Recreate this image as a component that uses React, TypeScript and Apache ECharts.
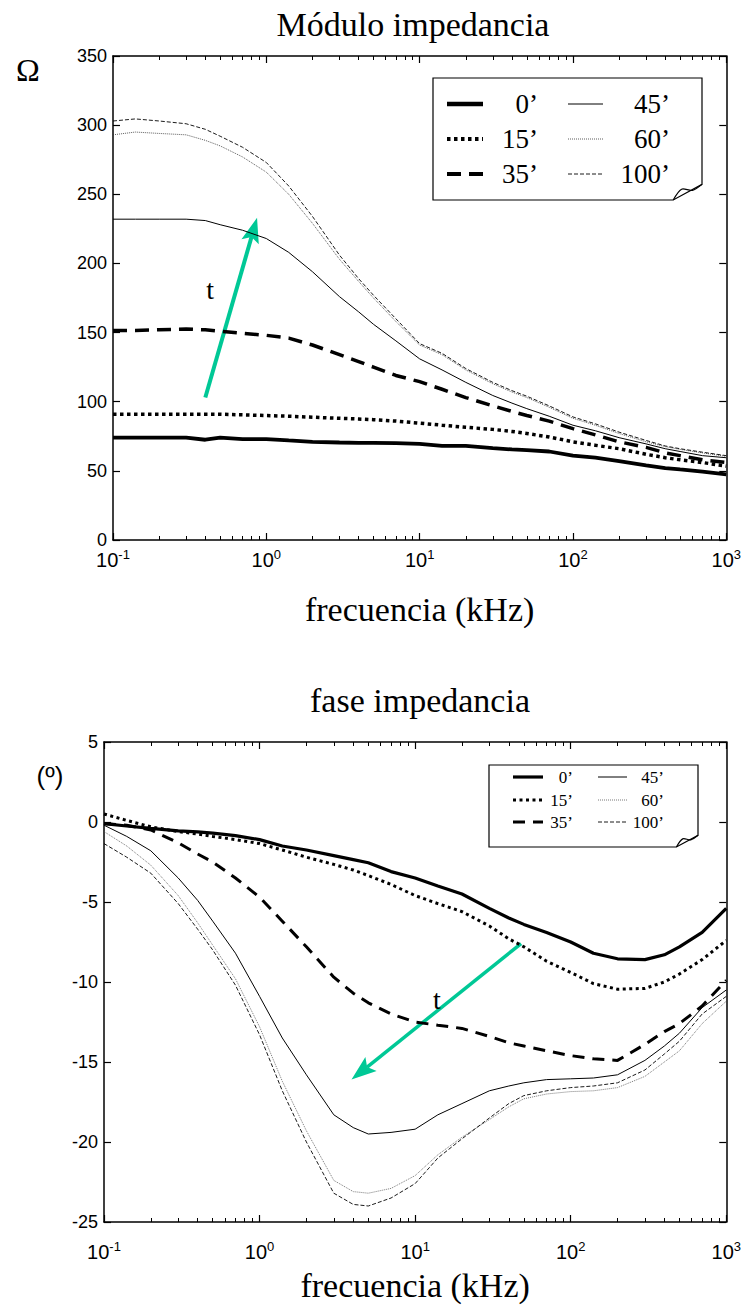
import React, { useEffect, useRef } from "react";
import * as echarts from "echarts";

// ---------- data ----------
const FREQ = [0.1, 0.14, 0.2, 0.3, 0.4, 0.5, 0.7, 1, 1.4, 2, 3, 4, 5, 7, 10, 14, 20, 30, 40, 50, 70, 100, 140, 200, 300, 400, 500, 700, 1000];
const SERIES_NAMES = ["0’", "15’", "35’", "45’", "60’", "100’"];

const MOD_0 = [74, 74, 74, 74, 72.5, 74, 73, 73, 72, 71, 70.5, 70.3, 70.3, 70, 69.5, 68, 68, 66.5, 65.5, 65, 64, 61, 59.5, 57, 54, 52, 51, 49.5, 47.5];
const MOD_15 = [91, 91, 91, 91, 91, 91, 90.5, 90, 89.5, 88.8, 88, 87.5, 87, 86, 84.5, 83, 81.5, 80, 78.5, 77, 74.5, 71, 68.5, 66, 62, 59.5, 58, 56, 53.5];
const MOD_35 = [151.5, 151.5, 152, 152.5, 152, 151, 149.5, 148, 146, 141, 134, 129, 125, 119, 114.5, 109, 103, 97, 93, 90, 86, 80.5, 76, 71, 67, 63, 61, 58, 56];
const MOD_45 = [232, 232, 232, 232, 231, 228, 224, 218, 208, 194, 176, 165, 156, 144, 131, 123, 114, 104.5, 99, 95, 89.5, 83, 79, 74, 69.5, 66, 64, 61, 59.5];
const MOD_60 = [293, 295, 294, 293, 289, 285, 277, 266, 250, 229, 203, 187, 175, 158, 141, 134, 123, 113, 107, 103, 96, 88, 83, 77, 71, 67.5, 65.5, 63, 60.5];
const MOD_100 = [303, 304.5, 303, 301, 297, 292, 284, 273, 256, 234, 206, 189, 177, 160, 142, 135, 124, 114, 108, 104, 97, 89, 84, 78, 72, 68, 66, 63.5, 61];

const PH_0 = [-0.1, -0.25, -0.4, -0.55, -0.62, -0.7, -0.85, -1.1, -1.5, -1.75, -2.1, -2.35, -2.55, -3.1, -3.5, -4.0, -4.5, -5.4, -6.0, -6.4, -6.9, -7.5, -8.2, -8.55, -8.6, -8.3, -7.8, -6.9, -5.4];
const PH_15 = [0.5, 0.1, -0.3, -0.6, -0.75, -0.9, -1.1, -1.35, -1.75, -2.2, -2.65, -3.0, -3.35, -3.9, -4.6, -5.1, -5.6, -6.5, -7.3, -7.8, -8.7, -9.4, -10.1, -10.45, -10.4, -10.0, -9.5, -8.6, -7.4];
const PH_35 = [-0.1, -0.2, -0.5, -1.3, -2.0, -2.5, -3.5, -4.7, -6.2, -7.8, -9.7, -10.7, -11.3, -12.0, -12.5, -12.7, -12.9, -13.4, -13.8, -14.0, -14.3, -14.6, -14.8, -14.9, -13.9, -13.1, -12.6, -11.5, -9.9];
const PH_45 = [-0.2, -0.9, -1.8, -3.5, -4.9, -6.2, -8.2, -10.9, -13.5, -15.8, -18.3, -19.1, -19.5, -19.4, -19.2, -18.3, -17.6, -16.8, -16.5, -16.3, -16.1, -16.05, -16.0, -15.8, -14.9, -14.0, -13.2, -11.6, -10.5];
const PH_60 = [-0.6, -1.5, -2.7, -4.6, -6.3, -7.7, -9.8, -12.8, -16.2, -19.3, -22.4, -23.1, -23.2, -22.9, -22.1, -20.8, -19.7, -18.6, -17.8, -17.3, -17.0, -16.85, -16.8, -16.6, -15.9, -15.0, -14.3, -12.6, -11.2];
const PH_100 = [-1.35, -2.2, -3.2, -5.1, -6.7, -8.0, -10.2, -13.3, -16.8, -20.0, -23.2, -23.9, -24.0, -23.5, -22.6, -21.0, -19.8, -18.5, -17.6, -17.1, -16.8, -16.6, -16.5, -16.3, -15.5, -14.5, -13.7, -12.0, -10.9];

const MODULE_SERIES = [MOD_0, MOD_15, MOD_35, MOD_45, MOD_60, MOD_100];
const PHASE_SERIES = [PH_0, PH_15, PH_35, PH_45, PH_60, PH_100];

const X_MAJOR_TICKS = [0.1, 1, 10, 100, 1000];
const X_MINOR_MULT = [2, 3, 4, 5, 6, 7, 8, 9];

// annotations (data coordinates)
const TOP_ARROW = { from: [0.4, 103], to: [0.87, 233], t: [0.43, 181] };
const BOT_ARROW = { from: [48, -7.6], to: [3.9, -16.1], t: [13.8, -11.1] };

// ---------- styles ----------
const SERIF = "'Liberation Serif', 'Times New Roman', Times, serif";
const SANS = "'Liberation Sans Narrow', 'Liberation Sans', Arial, sans-serif";
const ARROW_COLOR = "#00c896";

const LINE_STYLES = [
  { width: 3.8, type: "solid" as any, color: "#000" },
  { width: 3.5, type: [3.5, 3.5] as any, color: "#000" },
  { width: 3.5, type: [14, 8] as any, color: "#000" },
  { width: 1, type: "solid" as any, color: "#000" },
  { width: 0.8, type: [1, 1] as any, color: "#333" },
  { width: 0.9, type: [4, 2] as any, color: "#000" },
];
const LINE_STYLES_BOT = [
  { width: 3.2, type: "solid" as any, color: "#000" },
  { width: 3, type: [3, 3.5] as any, color: "#000" },
  { width: 3, type: [12, 8] as any, color: "#000" },
  { width: 1, type: "solid" as any, color: "#000" },
  { width: 0.8, type: [1, 1] as any, color: "#555" },
  { width: 0.9, type: [4, 2] as any, color: "#000" },
];

const minorTicks = () => {
  const out: number[] = [];
  for (let i = 0; i < X_MAJOR_TICKS.length - 1; i++) {
    for (const m of X_MINOR_MULT) out.push(+(X_MAJOR_TICKS[i] * m).toPrecision(6));
  }
  return out;
};

function xAxes(grid: number, labelMargin: number, name: string, nameGap: number) {
  const common = {
    type: "log" as const,
    logBase: 10,
    gridIndex: grid,
    min: 0.1,
    max: 1000,
    splitLine: { show: false },
  };
  const line = { show: true, onZero: false, lineStyle: { color: "#000", width: 1.5 } };
  const noLine = { show: false, onZero: false };
  return [
    {
      ...common,
      position: "bottom",
      axisLine: line,
      axisTick: { show: true, inside: true, length: 7, customValues: X_MAJOR_TICKS, lineStyle: { color: "#000", width: 1.2 } },
      axisLabel: {
        show: true,
        customValues: X_MAJOR_TICKS,
        margin: labelMargin,
        formatter: (v: number) => `{b|10}{s|${Math.round(Math.log10(v))}}`,
        rich: {
          b: { fontSize: 20, fontFamily: SANS, color: "#000", padding: [8, 0, 0, 0], verticalAlign: "bottom", lineHeight: 22 },
          s: { fontSize: 13, fontFamily: SANS, color: "#000", verticalAlign: "top", lineHeight: 13 },
        },
      },
      name,
      nameLocation: "middle",
      nameGap,
      nameTextStyle: { fontFamily: SERIF, fontSize: 34, color: "#000" },
    },
    {
      ...common,
      position: "bottom",
      axisLine: noLine,
      axisTick: { show: true, inside: true, length: 4, customValues: minorTicks(), lineStyle: { color: "#000", width: 1 } },
      axisLabel: { show: false },
    },
    {
      ...common,
      position: "top",
      axisLine: line,
      axisTick: { show: true, inside: true, length: 7, customValues: X_MAJOR_TICKS, lineStyle: { color: "#000", width: 1.2 } },
      axisLabel: { show: false },
    },
    {
      ...common,
      position: "top",
      axisLine: noLine,
      axisTick: { show: true, inside: true, length: 4, customValues: minorTicks(), lineStyle: { color: "#000", width: 1 } },
      axisLabel: { show: false },
    },
  ];
}

function yAxes(grid: number, min: number, max: number, interval: number) {
  const common = {
    type: "value" as const,
    gridIndex: grid,
    min,
    max,
    interval,
    splitLine: { show: false },
    axisLine: { show: true, onZero: false, lineStyle: { color: "#000", width: 1.5 } },
    axisTick: { show: true, inside: true, length: 7, lineStyle: { color: "#000", width: 1.2 } },
  };
  return [
    {
      ...common,
      position: "left",
      axisLabel: { show: true, fontSize: 18, fontFamily: SANS, color: "#000", margin: 6 },
    },
    { ...common, position: "right", axisLabel: { show: false } },
  ];
}

function legendGraphic(
  box: { x: number; y: number; w: number; h: number },
  rows: number[],
  cols: { l0: number; l1: number; tx: number }[],
  fontSize: number,
  styles: typeof LINE_STYLES,
  scale: number
) {
  const { x, y, w, h } = box;
  const cx = 24 * scale;
  const cy = 13 * scale;
  const els: any[] = [
    {
      type: "polygon",
      silent: true,
      shape: { points: [[x, y], [x + w, y], [x + w, y + h - cy], [x + w - cx, y + h], [x, y + h]] },
      style: { fill: "#fff", stroke: "#000", lineWidth: 1.2 },
    },
    {
      type: "polyline",
      silent: true,
      shape: {
        points: [[x + w - cx, y + h], [x + w - cx + 7 * scale, y + h - 9 * scale], [x + w - 8 * scale, y + h - 8 * scale], [x + w, y + h - cy]],
        smooth: 0.3,
      },
      style: { fill: "none", stroke: "#000", lineWidth: 1.2 },
    },
  ];
  for (let i = 0; i < 6; i++) {
    const col = cols[i < 3 ? 0 : 1];
    const ry = rows[i % 3];
    const st = styles[i];
    const lw = i < 3 ? st.width * (scale > 1 ? 1.15 : 1) : st.width;
    els.push({
      type: "line",
      silent: true,
      shape: { x1: col.l0, y1: ry, x2: col.l1, y2: ry },
      style: {
        stroke: st.color,
        lineWidth: lw,
        lineDash: Array.isArray(st.type) ? st.type : null,
      },
    });
    els.push({
      type: "text",
      silent: true,
      x: col.tx,
      y: ry,
      style: { text: SERIES_NAMES[i], fontFamily: SERIF, fontSize, fill: "#000", align: "right", verticalAlign: "middle" },
    });
  }
  return els;
}

function arrowGraphic(p0: number[], p1: number[], width: number, headLen: number, headW: number) {
  const dx = p1[0] - p0[0];
  const dy = p1[1] - p0[1];
  const len = Math.hypot(dx, dy);
  const ux = dx / len;
  const uy = dy / len;
  const bx = p1[0] - ux * headLen;
  const by = p1[1] - uy * headLen;
  const px = -uy;
  const py = ux;
  return [
    {
      type: "line",
      silent: true,
      shape: { x1: p0[0], y1: p0[1], x2: bx + ux * 2, y2: by + uy * 2 },
      style: { stroke: ARROW_COLOR, lineWidth: width },
    },
    {
      type: "polygon",
      silent: true,
      shape: {
        points: [
          [p1[0], p1[1]],
          [bx + px * headW / 2 - ux * 3, by + py * headW / 2 - uy * 3],
          [bx + ux * 2, by + uy * 2],
          [bx - px * headW / 2 - ux * 3, by - py * headW / 2 - uy * 3],
        ],
      },
      style: { fill: ARROW_COLOR },
    },
  ];
}

export default function App() {
  const ref = useRef<HTMLDivElement>(null);

  useEffect(() => {
    if (!ref.current) return;
    const chart = echarts.init(ref.current, undefined, { renderer: "svg" });

    const series: any[] = [];
    MODULE_SERIES.forEach((vals, i) => {
      const st = LINE_STYLES[i];
      series.push({
        type: "line",
        name: "mod " + SERIES_NAMES[i],
        xAxisIndex: 0,
        yAxisIndex: 0,
        showSymbol: false,
        symbol: "none",
        data: FREQ.map((f, j) => [f, vals[j]]),
        lineStyle: { color: st.color, width: st.width, type: st.type, cap: "butt" },
        z: 3,
      });
    });
    PHASE_SERIES.forEach((vals, i) => {
      const st = LINE_STYLES_BOT[i];
      series.push({
        type: "line",
        name: "fase " + SERIES_NAMES[i],
        xAxisIndex: 4,
        yAxisIndex: 2,
        showSymbol: false,
        symbol: "none",
        data: FREQ.map((f, j) => [f, vals[j]]),
        lineStyle: { color: st.color, width: st.width, type: st.type, cap: "butt" },
        z: 3,
      });
    });

    const option: any = {
      animation: false,
      backgroundColor: "#fff",
      grid: [
        { left: 113, top: 56, width: 615, height: 484 },
        { left: 104, top: 742, width: 624, height: 480 },
      ],
      xAxis: [...xAxes(0, 8, "frecuencia (kHz)", 52), ...xAxes(1, 18, "frecuencia (kHz)", 46)],
      yAxis: [...yAxes(0, 0, 350, 50), ...yAxes(1, -25, 5, 5)],
      series,
    };
    chart.setOption(option);

    const toPx = (grid: number, p: number[]) =>
      chart.convertToPixel({ xAxisIndex: grid === 0 ? 0 : 4, yAxisIndex: grid === 0 ? 0 : 2 }, p) as number[];

    const tA0 = toPx(0, TOP_ARROW.from);
    const tA1 = toPx(0, TOP_ARROW.to);
    const tT = toPx(0, TOP_ARROW.t);
    const bA0 = toPx(1, BOT_ARROW.from);
    const bA1 = toPx(1, BOT_ARROW.to);
    const bT = toPx(1, BOT_ARROW.t);

    const graphic: any[] = [
      {
        type: "text",
        silent: true,
        x: 413,
        y: 24,
        style: { text: "Módulo impedancia", fontFamily: SERIF, fontSize: 34, fill: "#000", align: "center", verticalAlign: "middle" },
      },
      {
        type: "text",
        silent: true,
        x: 420,
        y: 700,
        style: { text: "fase impedancia", fontFamily: SERIF, fontSize: 34, fill: "#000", align: "center", verticalAlign: "middle" },
      },
      {
        type: "text",
        silent: true,
        x: 28,
        y: 70,
        style: { text: "Ω", fontFamily: SERIF, fontSize: 32, fill: "#000", align: "center", verticalAlign: "middle" },
      },
      {
        type: "text",
        silent: true,
        x: 50,
        y: 776,
        style: { text: "(º)", fontFamily: SANS, fontSize: 26, fill: "#000", align: "center", verticalAlign: "middle" },
      },
      ...legendGraphic(
        { x: 433, y: 78, w: 269, h: 122 },
        [104, 139, 174],
        [
          { l0: 447, l1: 483, tx: 538 },
          { l0: 568, l1: 603, tx: 670 },
        ],
        27,
        LINE_STYLES,
        1.2
      ),
      ...legendGraphic(
        { x: 489, y: 765, w: 209, h: 82 },
        [777, 800, 822],
        [
          { l0: 513, l1: 543, tx: 573 },
          { l0: 598, l1: 627, tx: 664 },
        ],
        17,
        LINE_STYLES_BOT,
        0.9
      ),
      ...arrowGraphic(tA0, tA1, 4, 22, 18),
      {
        type: "text",
        silent: true,
        x: tT[0],
        y: tT[1],
        style: { text: "t", fontFamily: SERIF, fontSize: 28, fill: "#000", align: "center", verticalAlign: "middle" },
      },
      ...arrowGraphic(bA0, bA1, 3.5, 22, 18),
      {
        type: "text",
        silent: true,
        x: bT[0],
        y: bT[1],
        style: { text: "t", fontFamily: SERIF, fontSize: 28, fill: "#000", align: "center", verticalAlign: "middle" },
      },
    ];
    chart.setOption({ graphic });

    return () => chart.dispose();
  }, []);

  return <div ref={ref} style={{ position: "absolute", left: 0, top: 0, width: 744, height: 1306 }} />;
}
